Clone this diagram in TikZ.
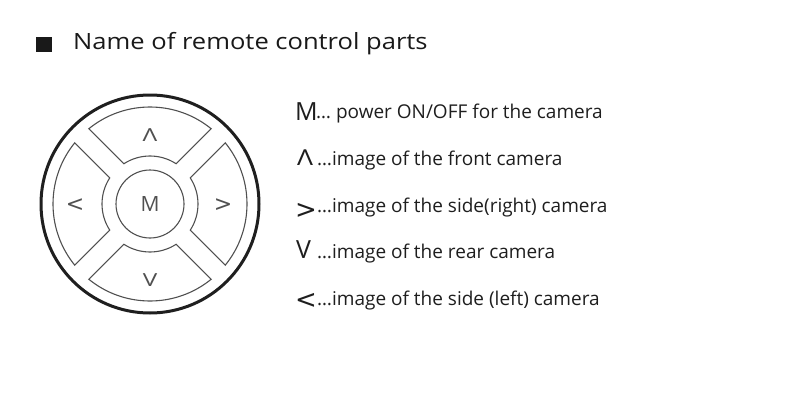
\documentclass[tikz,border=0pt]{standalone}
\usepackage{fontspec}
\setmainfont{Open Sans}
\newfontfamily\symfont{DejaVu Sans}
\newfontfamily\titlefont[FakeStretch=1.14]{Open Sans}
\definecolor{linegray}{HTML}{505050}
\definecolor{txt}{HTML}{1E1E1E}
\begin{document}
\begin{tikzpicture}[x=1pt,y=1pt,
  btn/.style={draw=linegray, line width=1.1pt},
  btnlabel/.style={text=linegray, inner sep=0pt, font=\fontsize{21}{24}\selectfont},
  sym/.style={text=txt, inner sep=0pt, anchor=base west},
  desc/.style={text=txt, inner sep=0pt, anchor=base west, font=\fontsize{19}{22}\selectfont}]
\useasboundingbox (0,0) rectangle (797,408);
% title
\fill[black!90] (36,356) rectangle (52,371);
\node[sym, font=\titlefont\fontsize{22.4}{26}\selectfont, text=black!90] (title) at (73,358) {Name of remote control parts};
% remote
\begin{scope}[shift={(150,204)}]
  \draw[line width=3pt, black!88] (0,0) circle[radius=109];
  \foreach \c in {0,90,180,270}
    \draw[btn] (\c-39.1:97) arc[start angle=\c-39.1, end angle=\c+39.1, radius=97]
      -- (\c+33:48) arc[start angle=\c+33, end angle=\c-33, radius=48] -- cycle;
  \draw[btn] (0,0) circle[radius=34];
  \node[btnlabel] (bm) at (0,0) {M};
  \node[btnlabel, font=\fontsize{18}{20}\selectfont] (bup) at (0,69) {\scalebox{1.35}[1]{Λ}};
  \node[btnlabel, font=\fontsize{18}{20}\selectfont] (bdown) at (0,-76) {\scalebox{1.35}[1]{V}};
  \node[btnlabel, font=\symfont\fontsize{22}{24}\selectfont] (bleft) at (-75,-1) {<};
  \node[btnlabel, font=\symfont\fontsize{22}{24}\selectfont] (bright) at (73,-1) {>};
\end{scope}
% legend
\node[sym, font=\fontsize{25}{28}\selectfont] (s1) at (295,288) {M};
\node[desc] (t1) at (316,290) {… power ON/OFF for the camera};
\node[sym, font=\fontsize{22}{24}\selectfont] (s2) at (297,243) {\scalebox{1.2}[1]{Λ}};
\node[desc] (t2) at (317,243) {…image of the front camera};
\node[sym, font=\symfont\fontsize{26}{28}\selectfont] (s3) at (295,190) {>};
\node[desc] (t3) at (317,196) {…image of the side(right) camera};
\node[sym, font=\fontsize{25}{28}\selectfont] (s4) at (296,150) {V};
\node[desc] (t4) at (317,150) {…image of the rear camera};
\node[sym, font=\symfont\fontsize{26}{28}\selectfont] (s5) at (295,100) {<};
\node[desc] (t5) at (317,103) {…image of the side (left) camera};
\end{tikzpicture}
\end{document}
